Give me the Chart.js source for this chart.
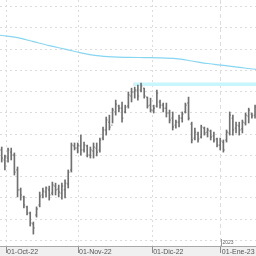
<!DOCTYPE html>
<html>
<head>
<meta charset="utf-8">
<script src="https://cdn.jsdelivr.net/npm/chart.js@4/dist/chart.umd.min.js"></script>
<style>
html, body { margin: 0; padding: 0; background: #fff; }
</style>
</head>
<body>
<canvas id="myChart" width="256" height="256"></canvas>
<script>
// sesiones diarias: maximo, minimo, apertura, cierre
var highs = [133.9,130.1,133.4,133.4,131.1,124.5,114.6,110.8,106.1,103.3,98.6,105.7,112.7,114.6,115.1,115.5,117.4,116.9,116.0,116.9,118.4,123.1,
  135.8,135.8,135.8,139.5,136.2,134.8,133.9,135.8,135.8,138.1,143.3,148.0,148.9,152.2,156.0,153.6,155.1,153.6,159.8,161.6,162.1,163.1,164.0,161.6,157.4,
  156.9,153.6,160.7,156.0,154.6,154.6,151.3,150.4,146.6,148.9,150.4,154.6,157.4,145.6,142.8,140.9,144.2,143.3,142.8,141.9,140.9,138.1,138.1,137.2,
  141.9,150.4,148.9,145.6,145.6,146.6,149.9,152.2,149.9,153.6];
var lows = [126.8,123.1,126.8,127.8,120.7,110.4,108.9,105.2,101.9,96.7,92.9,100.9,105.7,109.9,110.4,108.9,111.3,111.3,110.4,109.4,109.9,114.6,
  122.1,132.5,131.1,130.1,131.5,129.2,128.7,128.7,129.7,131.5,137.2,139.5,141.9,145.2,148.9,150.4,145.6,149.9,152.2,155.1,156.9,156.0,159.8,156.9,152.2,
  150.4,149.9,152.7,152.2,150.4,148.0,145.2,141.9,142.8,143.3,145.6,149.9,146.6,135.8,137.2,136.2,138.1,139.5,138.6,137.2,136.2,133.9,132.5,131.5,
  136.2,139.5,139.5,140.5,139.5,140.5,144.2,145.2,147.5,147.5];
var opens = [132.5,127.8,128.7,131.5,130.1,123.1,113.7,110.4,105.7,102.8,97.7,101.9,106.6,111.3,112.7,113.7,112.2,115.5,114.1,112.2,113.7,116.5,
  123.1,134.4,133.4,134.4,132.5,134.4,130.1,132.0,133.4,132.5,138.1,141.9,145.6,144.2,150.4,153.2,152.2,150.4,153.2,157.9,159.8,160.7,160.7,161.6,157.4,
  153.6,151.3,153.2,155.1,153.6,152.2,149.9,147.5,144.2,145.6,147.5,150.4,154.6,144.7,138.1,140.0,138.6,142.8,140.9,141.4,139.1,137.7,134.8,136.2,
  137.2,140.5,147.5,142.8,143.8,142.4,145.2,148.5,149.4,148.9];
var closes = [128.7,129.2,132.5,130.1,122.1,113.7,111.3,106.6,102.8,98.1,95.8,104.7,110.8,113.2,114.6,111.3,116.0,113.7,112.7,115.5,116.9,122.1,
  134.8,133.4,134.8,132.5,134.8,130.1,132.5,133.9,131.5,137.2,141.9,146.6,143.3,151.3,154.1,152.2,147.5,152.7,158.4,159.8,160.7,157.9,162.6,157.9,153.2,
  151.3,152.2,159.3,153.6,152.2,149.9,146.6,143.3,145.6,147.5,149.4,153.6,147.5,137.2,140.9,137.7,143.3,140.5,141.9,138.6,137.2,134.8,136.7,132.5,
  140.9,148.9,141.9,144.2,141.9,145.6,148.9,151.3,148.5,152.7];

var maDays = [-1,0,5,10,15,20,25,30,35,40,45,50,55,60,65,70,75,80,81];
var maValues = [186.6,186.4,185.4,183.5,181.6,180.0,178.2,176.9,176.3,176.1,176.0,175.9,175.5,174.4,173.2,172.3,171.4,170.5,170.4];

// zona de resistencia (desde el maximo)
var zoneDays = [41.5, 81];
var zoneLevel = 163.4;

// ejes
var monthTicks = [1.36, 24.1, 47.5, 69.2];
var monthLabels = ["01-Oct-22", "01-Nov-22", "01-Dic-22", "01-Ene-23"];
var yearLabel = "2023";
var gridValues = [90,100,110,120,130,140,150,160,170,180,190,200];

var barData = highs.map(function (h, i) { return { x: i, y: [lows[i], h] }; });
var openData = opens.map(function (v, i) { return { x: i, y: v }; });
var closeData = closes.map(function (v, i) { return { x: i, y: v }; });
var maData = maDays.map(function (d, i) { return { x: d, y: maValues[i] }; });
var zoneData = zoneDays.map(function (d) { return { x: d, y: zoneLevel }; });

var axisBand = {
  id: 'axisBand',
  beforeDraw: function (chart) {
    var c = chart.ctx, xs = chart.scales.x;
    c.save();
    c.fillStyle = '#f0f0f0';
    c.fillRect(0, xs.top, chart.width, chart.height - xs.top);
    c.restore();
  },
  afterDraw: function (chart) {
    var c = chart.ctx, xs = chart.scales.x;
    var px = Math.round(xs.getPixelForValue(monthTicks[3])) + 0.5;
    c.save();
    c.strokeStyle = '#999';
    c.lineWidth = 1;
    c.beginPath();
    c.moveTo(px, xs.top - 7);
    c.lineTo(px, xs.top);
    c.stroke();
    c.fillStyle = '#666';
    c.font = '5px Arial';
    c.textBaseline = 'bottom';
    c.fillText(yearLabel, px + 1, xs.top - 1);
    c.restore();
  }
};

var ctx = document.getElementById('myChart').getContext('2d');
var myChart = new Chart(ctx, {
  type: 'line',
  data: {
    datasets: [{
      type: 'bar',
      data: barData,
      backgroundColor: '#707070',
      borderWidth: 0,
      barThickness: 1,
      order: 2
    }, {
      data: openData,
      showLine: false,
      pointStyle: 'dash',
      rotation: 180,
      pointRadius: 1.3,
      borderColor: '#707070',
      borderWidth: 1,
      order: 1
    }, {
      data: closeData,
      showLine: false,
      pointStyle: 'dash',
      rotation: 0,
      pointRadius: 1.3,
      borderColor: '#707070',
      borderWidth: 1,
      order: 1
    }, {
      data: maData,
      borderColor: '#86d6f2',
      borderWidth: 1.2,
      pointRadius: 0,
      cubicInterpolationMode: 'monotone',
      order: 3
    }, {
      data: zoneData,
      borderColor: '#c8f6fc',
      borderWidth: 3.5,
      pointRadius: 0,
      order: 4
    }]
  },
  options: {
    responsive: false,
    animation: false,
    layout: { padding: 0, autoPadding: false },
    plugins: { legend: { display: false }, tooltip: { enabled: false } },
    scales: {
      x: {
        type: 'linear',
        min: -0.54,
        max: 80.3,
        offset: false,
        afterBuildTicks: function (scale) {
          scale.ticks = monthTicks.map(function (v) { return { value: v }; });
        },
        afterFit: function (scale) { scale.height = 10; },
        grid: {
          offset: false,
          color: '#dcdcdc',
          tickColor: '#8c8c8c',
          tickLength: 7,
          drawTicks: true
        },
        border: {
          display: true,
          color: '#a8a8a8',
          dash: function (c) { return c.index === 3 ? [4, 3] : [2, 3]; }
        },
        ticks: {
          autoSkip: false,
          maxRotation: 0,
          align: 'start',
          padding: -5,
          labelOffset: 1,
          color: '#555',
          font: { family: 'Arial', size: 7 },
          callback: function (v, i) { return monthLabels[i]; }
        }
      },
      y: {
        min: 87.3,
        max: 203.1,
        afterBuildTicks: function (scale) {
          scale.ticks = gridValues.map(function (v) { return { value: v }; });
        },
        grid: { color: '#dcdcdc', drawTicks: false },
        border: { display: false, dash: [2, 3] },
        ticks: { display: false }
      }
    }
  },
  plugins: [axisBand]
});
</script>
</body>
</html>
